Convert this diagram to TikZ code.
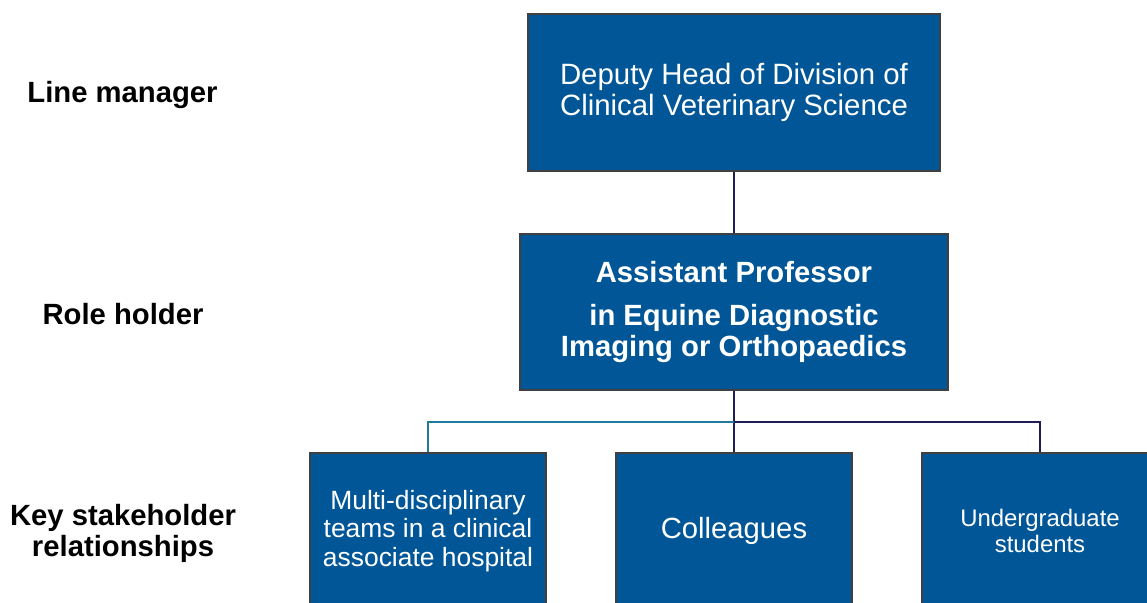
\documentclass[tikz,border=0pt]{standalone}
\usepackage{fontspec}
\setmainfont{Liberation Sans}
\usepackage{tikz}
\usetikzlibrary{calc}

\definecolor{boxblue}{RGB}{0,86,150}
\definecolor{boxedge}{RGB}{64,64,64}
\definecolor{linknavy}{RGB}{30,30,84}
\definecolor{linkteal}{RGB}{31,122,156}

\begin{document}
\begin{tikzpicture}[x=0.025cm, y=-0.025cm,
	rolebox/.style={draw=boxedge, line width=1.4pt, fill=boxblue, text=white,
		align=center, inner sep=0pt, minimum height=3.9cm},
	tierlabel/.style={align=center, yshift=-2pt, font=\fontsize{20.8}{22}\selectfont\bfseries},
	link/.style={draw=linknavy, line width=1.3pt}]

	% ---- frame

	\clip (0,0) rectangle (1147,603);

	% ---- boxes

	\node[rolebox, minimum width=10.3cm, font=\fontsize{20.9}{22.4}\selectfont]
		(head) at (734,92.5) {Deputy Head of Division of\\Clinical Veterinary Science};

	\node[rolebox, minimum width=10.7cm, font=\fontsize{20.8}{22.6}\selectfont\bfseries]
		(prof) at (734,312) {Assistant Professor\\[8pt]in Equine Diagnostic\\Imaging or Orthopaedics};

	\node[rolebox, minimum width=5.9cm, font=\fontsize{18.8}{20.2}\selectfont]
		(teams) at (428,531) {Multi-disciplinary\\teams in a clinical\\associate hospital};

	\node[rolebox, minimum width=5.9cm, font=\fontsize{20.8}{22}\selectfont]
		(colls) at (734,531) {Colleagues};

	\node[rolebox, minimum width=5.9cm, font=\fontsize{17}{18.2}\selectfont]
		(ugrads) at (1040,531) {Undergraduate\\students};

	% ---- tier labels

	\node[tierlabel] (lm) at (122.5,92) {Line manager};
	\node[tierlabel] (rh) at (123,311) {Role holder};
	\node[tierlabel] (ks) at (123,531) {Key stakeholder\\relationships};

	% ---- connectors

	\coordinate (J) at (734,422);

	\draw[link] (head.south) -- (prof.north);
	\draw[link] (prof.south) -- (J) -- (colls.north);
	\draw[link] (J) -| (ugrads.north);
	\draw[link, draw=linkteal] (J) -| (teams.north);

\end{tikzpicture}
\end{document}
